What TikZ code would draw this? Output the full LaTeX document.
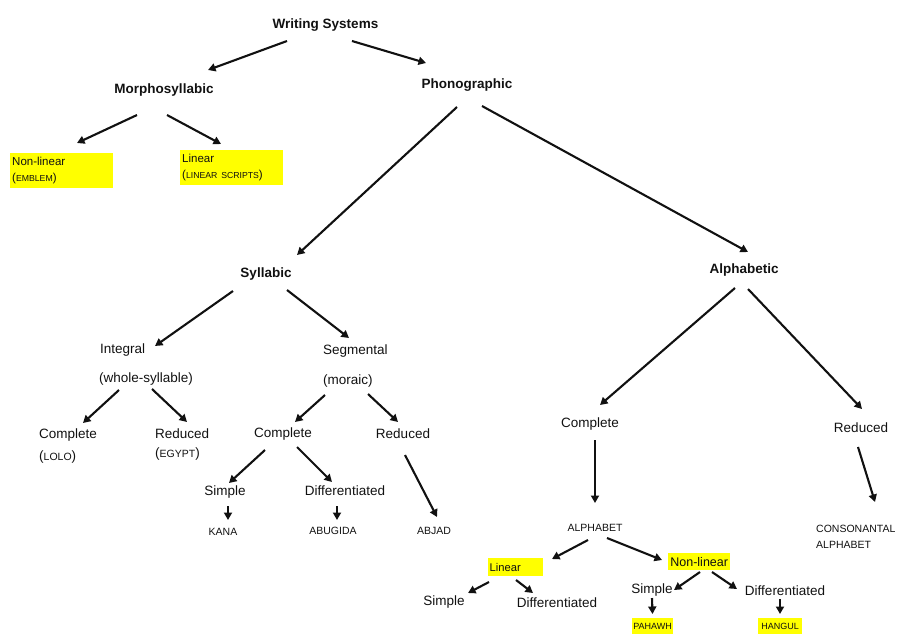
\documentclass[tikz,border=0pt]{standalone}
\usepackage{fontspec}
\setmainfont{Liberation Sans}
\usetikzlibrary{calc,arrows.meta}
\definecolor{ink}{HTML}{111111}
\definecolor{hl}{HTML}{FFFF00}
\tikzset{
  txt/.style={inner sep=0pt, text=ink, font=\fontsize{13.5}{16}\selectfont},
  bld/.style={inner sep=0pt, text=ink, font=\fontsize{13.5}{16}\selectfont\bfseries},
  caps/.style={inner sep=0pt, text=ink, font=\fontsize{10.5}{12}\selectfont},
  ybox/.style={fill=hl, text=ink, inner ysep=0pt},
  arr/.style={draw=ink, line width=2.1pt, -{Triangle[length=7.5pt,width=8pt]}}
}
\newcommand{\scap}[1]{{\fontsize{8.7}{10}\selectfont #1}}
\newcommand{\mcap}[1]{{\fontsize{10.5}{12}\selectfont #1}}
\begin{document}
\begin{tikzpicture}[x=1pt,y=-1pt]
\useasboundingbox (0,0) rectangle (901,633);
% top levels
\node[bld, anchor=base] (ws) at (325.5,28) {Writing Systems};
\node[bld, anchor=base] (morph) at (164,93) {Morphosyllabic};
\node[bld, anchor=base] (phon) at (467,88) {Phonographic};
\node[ybox, anchor=north west, minimum width=103pt, minimum height=35pt, text width=99pt, inner xsep=2pt, align=left, font=\fontsize{11.5}{16}\selectfont] (nl) at (10,153) {Non-linear\\(\scap{EMBLEM})};
\node[ybox, anchor=north west, minimum width=103pt, minimum height=35pt, text width=99pt, inner xsep=2pt, align=left, font=\fontsize{11.5}{16}\selectfont] (lin) at (180,150) {Linear\\(\scap{LINEAR SCRIPTS})};
\node[bld, anchor=base] (syl) at (266,277) {Syllabic};
\node[bld, anchor=base] (alpha) at (744,273) {Alphabetic};
% syllabic branch
\node[txt, anchor=base west] (integral) at (100,353) {Integral};
\node[txt, anchor=base west] (whole) at (99,382) {(whole-syllable)};
\node[txt, anchor=base west] (segmental) at (323,354) {Segmental};
\node[txt, anchor=base west] (moraic) at (323,384) {(moraic)};
\node[txt, anchor=base west] (compL) at (39,438) {Complete};
\node[txt, anchor=base west] (lolo) at (39,460) {(\mcap{LOLO})};
\node[txt, anchor=base west] (redL) at (155,438) {Reduced};
\node[txt, anchor=base west] (egypt) at (155,457) {(\mcap{EGYPT})};
\node[txt, anchor=base] (compS) at (283,437) {Complete};
\node[txt, anchor=base] (redS) at (403,438) {Reduced};
\node[txt, anchor=base] (simpS) at (225,495) {Simple};
\node[txt, anchor=base] (diffS) at (345,495) {Differentiated};
\node[caps, anchor=base] (kana) at (223,535) {KANA};
\node[caps, anchor=base] (abugida) at (333,534) {ABUGIDA};
\node[caps, anchor=base] (abjad) at (434,534) {ABJAD};
% alphabetic branch
\node[txt, anchor=base] (compA) at (590,427) {Complete};
\node[txt, anchor=base] (redA) at (861,432) {Reduced};
\node[caps, anchor=base] (alphabet) at (595,531) {ALPHABET};
\node[caps, anchor=base west] (cons) at (816,532) {CONSONANTAL};
\node[caps, anchor=base west] (cons2) at (816,548) {ALPHABET};
\node[ybox, anchor=north west, minimum height=18pt, text width=52pt, inner xsep=1.5pt, align=left, font=\fontsize{11.2}{13}\selectfont] (linB) at (488,558) {Linear};
\node[ybox, anchor=north west, minimum height=17pt, minimum width=62pt, inner xsep=1pt, font=\fontsize{12.5}{14}\selectfont] (nonlinB) at (668,553) {Non-linear};
\node[txt, anchor=base] (simpB) at (444,605) {Simple};
\node[txt, anchor=base] (diffB) at (557,607) {Differentiated};
\node[txt, anchor=base] (simpN) at (652,593) {Simple};
\node[txt, anchor=base] (diffN) at (785,595) {Differentiated};
\node[ybox, anchor=north, minimum height=16pt, minimum width=39pt, inner xsep=1pt, font=\fontsize{9}{10}\selectfont] (pahawh) at (652.5,618) {PAHAWH};
\node[ybox, anchor=north, minimum height=16pt, minimum width=44pt, inner xsep=1pt, font=\fontsize{9}{10}\selectfont] (hangul) at (780,618) {HANGUL};
% connectors
\draw[arr] ($(ws.base)+(-38.5,13)$) -- ($(morph.base)+(44,-23)$);
\draw[arr] ($(ws.base)+(26.5,13)$) -- ($(phon.base)+(-41,-25)$);
\draw[arr] ($(morph.base)+(-27,22)$) -- ($(nl.north west)+(67,-10)$);
\draw[arr] ($(morph.base)+(3,22)$) -- ($(lin.north west)+(41,-6)$);
\draw[arr] ($(phon.base)+(-10,19)$) -- ($(syl.base)+(31,-22)$);
\draw[arr] ($(phon.base)+(15,18)$) -- ($(alpha.base)+(4,-21)$);
\draw[arr] ($(alpha.base)+(-9,15)$) -- ($(compA.base)+(10,-22)$);
\draw[arr] ($(alpha.base)+(4,16)$) -- ($(redA.base)+(1,-23)$);
\draw[arr] ($(compA.base)+(5,13)$) -- ($(alphabet.base)+(0,-28)$);
\draw[arr] ($(redA.base)+(-3,15)$) -- ($(cons.base west)+(59,-30)$);
\draw[arr] ($(alphabet.base)+(-7,9)$) -- ($(linB.north west)+(64,1)$);
\draw[arr] ($(alphabet.base)+(12,7)$) -- ($(nonlinB.north west)+(-6,7)$);
\draw[arr] ($(linB.north west)+(1,24)$) -- ($(simpB.base)+(24,-12)$);
\draw[arr] ($(linB.north west)+(28,22)$) -- ($(diffB.base)+(-24,-14)$);
\draw[arr] ($(nonlinB.north west)+(32,19)$) -- ($(simpN.base)+(22,-3)$);
\draw[arr] ($(nonlinB.north west)+(44,19)$) -- ($(diffN.base)+(-48,-6)$);
\draw[arr] ($(simpN.base)+(0,5)$) -- ($(pahawh.north)+(0,-4)$);
\draw[arr] ($(diffN.base)+(-5,4)$) -- ($(hangul.north)+(0,-4)$);
\draw[arr] ($(syl.base)+(-33,14)$) -- ($(integral.base west)+(55,-7)$);
\draw[arr] ($(syl.base)+(21,13)$) -- ($(segmental.base west)+(26,-16)$);
\draw[arr] ($(whole.base west)+(20,8)$) -- ($(compL.base west)+(44,-15)$);
\draw[arr] ($(whole.base west)+(53,7)$) -- ($(redL.base west)+(32,-16)$);
\draw[arr] ($(moraic.base west)+(2,11)$) -- ($(compS.base)+(12,-15)$);
\draw[arr] ($(moraic.base west)+(45,10)$) -- ($(redS.base)+(-5,-16)$);
\draw[arr] ($(compS.base)+(-18,13)$) -- ($(simpS.base)+(4,-12)$);
\draw[arr] ($(compS.base)+(14,10)$) -- ($(diffS.base)+(-13,-13)$);
\draw[arr] ($(simpS.base)+(3,11)$) -- ($(kana.base)+(5,-15)$);
\draw[arr] ($(diffS.base)+(-8,11)$) -- ($(abugida.base)+(4,-14)$);
\draw[arr] ($(redS.base)+(2,17)$) -- ($(abjad.base)+(3,-17)$);
\end{tikzpicture}
\end{document}
